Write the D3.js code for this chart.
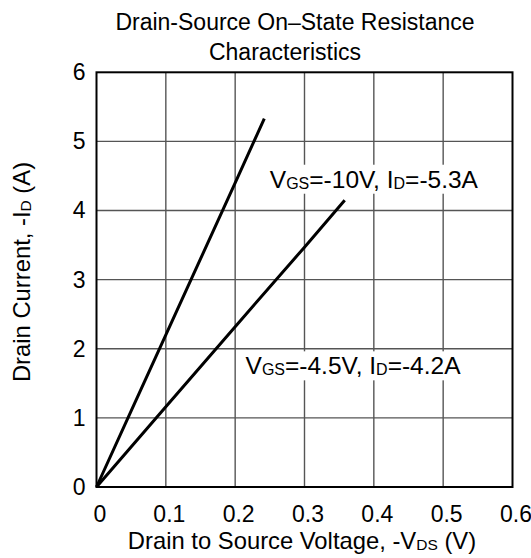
<!DOCTYPE html>
<html><head><meta charset="utf-8">
<script src="https://cdn.jsdelivr.net/npm/d3@7"></script>
<style>
html,body{margin:0;padding:0;background:#fff;}
svg text{font-family:"Liberation Sans",Arial,Helvetica,sans-serif;fill:#000;}
</style></head>
<body>
<svg id="c" width="531" height="558"></svg>
<script>
// ---- data ----
const xTicks = [0, 0.1, 0.2, 0.3, 0.4, 0.5, 0.6];
const xTickLabels = ["0", "0.1", "0.2", "0.3", "0.4", "0.5", "0.6"];
const yTicks = [0, 1, 2, 3, 4, 5, 6];
const yTickLabels = ["0", "1", "2", "3", "4", "5", "6"];
const vdsVgs10 = [0, 0.05, 0.1, 0.15, 0.2, 0.242];
const idVgs10 = [0, 1.1, 2.2, 3.3, 4.4, 5.33];
const vdsVgs45 = [0, 0.1, 0.2, 0.3, 0.358];
const idVgs45 = [0, 1.16, 2.32, 3.47, 4.15];
const titleLines = ["Drain-Source On\u2013State Resistance", "Characteristics"];

const svg = d3.select("#c");
const x = d3.scaleLinear().domain([0, 0.6]).range([96.5, 512.5]);
const y = d3.scaleLinear().domain([0, 6]).range([487, 72.3]);
const FS = 23;

// grid
const g = svg.append("g");
g.selectAll(".vg").data(xTicks.slice(1, -1)).enter().append("line")
  .attr("x1", d => x(d)).attr("x2", d => x(d)).attr("y1", y(0)).attr("y2", y(6))
  .attr("stroke", "#555").attr("stroke-width", 1.4);
g.selectAll(".hg").data(yTicks.slice(1, -1)).enter().append("line")
  .attr("y1", d => y(d)).attr("y2", d => y(d)).attr("x1", x(0)).attr("x2", x(0.6))
  .attr("stroke", "#555").attr("stroke-width", 1.4);

// axes labels via d3 axes (no lines)
const xAxis = svg.append("g").attr("transform", `translate(0,${y(0)})`)
  .call(d3.axisBottom(x).tickValues(xTicks).tickFormat((d, i) => xTickLabels[i]).tickSize(0).tickPadding(18));
xAxis.select(".domain").remove();
xAxis.selectAll("text").attr("font-size", FS).attr("font-family", "Liberation Sans, Arial, sans-serif")
  .attr("fill", "#000").attr("dy", "0.72em").attr("dx", 3);

const yAxis = svg.append("g").attr("transform", `translate(${x(0)},0)`)
  .call(d3.axisLeft(y).tickValues(yTicks).tickFormat((d, i) => yTickLabels[i]).tickSize(0).tickPadding(11));
yAxis.select(".domain").remove();
yAxis.selectAll("text").attr("font-size", FS).attr("font-family", "Liberation Sans, Arial, sans-serif").attr("fill", "#000");

// annotations with white background
function annot(px, py, parts) {
  const t = svg.append("text").attr("x", px).attr("y", py).attr("font-size", 24.5);
  parts.forEach(p => {
    const s = t.append("tspan").text(p.t);
    if (p.sub) s.attr("font-size", 16).attr("dy", 1); else s.attr("dy", p.after ? -1 : 0);
  });
  const bb = t.node().getBBox();
  svg.insert("rect", function(){ return t.node(); })
    .attr("x", bb.x - 2).attr("y", bb.y - 1).attr("width", bb.width + 4).attr("height", bb.height + 2)
    .attr("fill", "#fff");
}

// curves
const line = d3.line().x(d => x(d[0])).y(d => y(d[1]));
[[vdsVgs10, idVgs10], [vdsVgs45, idVgs45]].forEach(([xs, ys]) => {
  svg.append("path").datum(xs.map((v, i) => [v, ys[i]]))
    .attr("d", line).attr("fill", "none").attr("stroke", "#000").attr("stroke-width", 3);
});

annot(x(0.25), y(4.33), [{t:"V"},{t:"GS",sub:true},{t:"=-10V, I",after:true},{t:"D",sub:true},{t:"=-5.3A",after:true}]);
annot(x(0.215), y(1.63), [{t:"V"},{t:"GS",sub:true},{t:"=-4.5V, I",after:true},{t:"D",sub:true},{t:"=-4.2A",after:true}]);

// frame
svg.append("rect").attr("x", x(0)).attr("y", y(6)).attr("width", x(0.6) - x(0)).attr("height", y(0) - y(6))
  .attr("fill", "none").attr("stroke", "#000").attr("stroke-width", 2);

// title
svg.append("text").attr("x", 295).attr("y", 29.5).attr("text-anchor", "middle").attr("font-size", FS).text(titleLines[0]);
svg.append("text").attr("x", 285).attr("y", 59.5).attr("text-anchor", "middle").attr("font-size", FS).text(titleLines[1]);

// x label
const xl = svg.append("text").attr("x", 302).attr("y", 549).attr("text-anchor", "middle").attr("font-size", 23.8);
xl.append("tspan").text("Drain to Source Voltage, -V");
xl.append("tspan").text("DS").attr("font-size", 15.5).attr("dy", 1);
xl.append("tspan").text(" (V)").attr("dy", -1);

// y label
const yl = svg.append("text").attr("transform", "translate(30,272) rotate(-90)").attr("text-anchor", "middle").attr("font-size", 23.8);
yl.append("tspan").text("Drain Current, -I");
yl.append("tspan").text("D").attr("font-size", 15.5).attr("dy", 1);
yl.append("tspan").text(" (A)").attr("dy", -1);
</script>
</body></html>
